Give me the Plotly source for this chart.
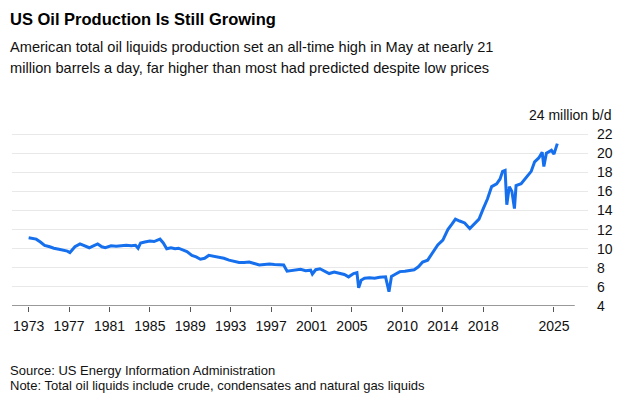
import plotly.graph_objects as go

# Monthly readings (approximate)
dates = [
    "1973-01", "1973-06", "1973-10", "1974-03", "1974-08", "1975-02", "1975-07", "1976-01",
    "1976-06", "1976-11", "1977-02", "1977-05", "1977-08", "1978-02", "1978-07", "1979-01",
    "1979-06", "1979-11", "1980-04", "1980-08", "1981-03", "1981-09", "1982-03", "1982-09",
    "1983-03", "1983-08", "1983-11", "1984-02", "1984-07", "1985-01", "1985-06", "1985-10",
    "1986-01", "1986-05", "1986-09", "1987-02", "1987-07", "1987-11", "1988-04", "1988-09",
    "1989-03", "1989-08", "1990-01", "1990-06", "1990-11", "1991-05", "1991-11", "1992-05",
    "1992-11", "1993-05", "1993-11", "1994-05", "1994-11", "1995-05", "1995-11", "1996-05",
    "1996-11", "1997-05", "1997-11", "1998-04", "1998-08", "1999-01", "1999-06", "1999-12",
    "2000-06", "2000-12", "2001-02", "2001-06", "2001-11", "2002-05", "2002-10", "2003-04",
    "2003-10", "2004-04", "2004-09", "2005-03", "2005-07", "2005-09", "2005-12", "2006-04",
    "2006-10", "2007-04", "2007-10", "2008-05", "2008-09", "2008-12", "2009-04", "2009-10",
    "2010-04", "2010-10", "2011-03", "2011-08", "2012-01", "2012-07", "2013-01", "2013-07",
    "2014-01", "2014-07", "2014-12", "2015-04", "2015-09", "2016-03", "2016-09", "2017-03",
    "2017-08", "2018-01", "2018-06", "2018-11", "2019-05", "2019-09", "2019-12", "2020-03",
    "2020-05", "2020-08", "2020-11", "2021-02", "2021-04", "2021-10", "2022-04", "2022-10",
    "2023-02", "2023-07", "2023-11", "2024-01", "2024-04", "2024-10", "2025-01", "2025-05",
]
production = [
    11.15, 11.05, 11.0, 10.7, 10.35, 10.2, 10.05, 9.95,
    9.85, 9.75, 9.6, 9.85, 10.2, 10.5, 10.3, 10.1,
    10.3, 10.5, 10.2, 10.1, 10.3, 10.25, 10.3, 10.35,
    10.3, 10.35, 10.05, 10.6, 10.7, 10.8, 10.75, 10.9,
    11.0, 10.6, 10.0, 10.1, 10.0, 10.05, 9.9, 9.7,
    9.3, 9.15, 8.9, 9.0, 9.3, 9.2, 9.15, 9.0,
    8.8, 8.7, 8.55, 8.55, 8.6, 8.45, 8.3, 8.35,
    8.4, 8.35, 8.35, 8.3, 7.65, 7.7, 7.75, 7.85,
    7.7, 7.75, 7.35, 7.8, 7.9, 7.6, 7.4, 7.55,
    7.4, 7.3, 7.05, 7.4, 7.5, 5.9, 6.7, 6.9,
    6.95, 6.9, 7.0, 7.05, 5.5, 7.1, 7.3, 7.6,
    7.65, 7.7, 7.8, 8.1, 8.6, 8.8, 9.6, 10.4,
    10.9, 12.0, 12.6, 13.1, 12.9, 12.7, 12.1, 12.7,
    13.1, 14.2, 15.2, 16.5, 16.8, 17.3, 18.1, 18.2,
    14.6, 16.5, 16.0, 14.2, 16.6, 16.8, 17.4, 18.1,
    19.1, 19.5, 20.1, 18.6, 20.0, 20.3, 19.9, 21.0,
]

x_tick_years = ["1973", "1977", "1981", "1985", "1989", "1993", "1997", "2001",
                "2005", "2010", "2014", "2018", "2025"]
y_ticks = [4, 6, 8, 10, 12, 14, 16, 18, 20, 22, 24]
y_tick_text = ["4", "6", "8", "10", "12", "14", "16", "18", "20", "22", ""]

title = "US Oil Production Is Still Growing"
subtitle_1 = "American total oil liquids production set an all-time high in May at nearly 21"
subtitle_2 = "million barrels a day, far higher than most had predicted despite low prices"
source = "Source: US Energy Information Administration"
note = "Note: Total oil liquids include crude, condensates and natural gas liquids"
unit_label = "24 million b/d"

FONT = "Liberation Sans, Arial, sans-serif"
TEXT = "#111111"

fig = go.Figure()
fig.add_trace(go.Scatter(
    x=dates, y=production, mode="lines",
    line=dict(color="#1670ee", width=3),
    hoverinfo="skip",
))

fig.update_layout(
    width=630, height=404,
    margin=dict(l=12, r=42, t=115, b=98, autoexpand=False),
    paper_bgcolor="white", plot_bgcolor="white",
    showlegend=False,
    font=dict(family=FONT, color=TEXT, size=14),
    xaxis=dict(
        type="date",
        range=["1971-05-10", "2028-05-15"],
        tickvals=[y + "-01-01" for y in x_tick_years],
        ticktext=x_tick_years,
        ticks="outside", ticklen=5, tickwidth=1.2, tickcolor="#555555",
        showgrid=False, showline=False, zeroline=False,
        tickfont=dict(size=14, color=TEXT),
        ticklabelstandoff=2,
        automargin=False,
    ),
    yaxis=dict(
        side="right",
        range=[4, 24],
        tickvals=y_ticks, ticktext=y_tick_text,
        showgrid=True, gridcolor="#e8e8e8", gridwidth=1,
        zeroline=False, showline=False, ticks="",
        tickfont=dict(size=14, color=TEXT),
        ticklabelstandoff=8,
        automargin=False,
    ),
    shapes=[dict(type="line", xref="paper", yref="y", x0=0, x1=0.977, y0=4, y1=4,
                 line=dict(color="#777777", width=1.5), layer="above")],
    annotations=[
        dict(text=f"<b>{title}</b>", xref="paper", yref="paper", x=-0.007, y=1.56,
             xanchor="left", yanchor="top", showarrow=False,
             font=dict(size=16.5, color="#000000", family=FONT)),
        dict(text=subtitle_1, xref="paper", yref="paper", x=-0.007, y=1.41,
             xanchor="left", yanchor="top", showarrow=False,
             font=dict(size=14.6, color=TEXT, family=FONT)),
        dict(text=subtitle_2, xref="paper", yref="paper", x=-0.007, y=1.301,
             xanchor="left", yanchor="top", showarrow=False,
             font=dict(size=14.6, color=TEXT, family=FONT)),
        dict(text=source, xref="paper", yref="paper", x=-0.007, y=-0.29,
             xanchor="left", yanchor="top", showarrow=False,
             font=dict(size=13, color=TEXT, family=FONT)),
        dict(text=note, xref="paper", yref="paper", x=-0.007, y=-0.368,
             xanchor="left", yanchor="top", showarrow=False,
             font=dict(size=13, color=TEXT, family=FONT)),
        dict(text=unit_label, xref="paper", yref="y", x=1.047, y=24,
             xanchor="right", yanchor="middle", showarrow=False,
             bgcolor="white", borderpad=2,
             font=dict(size=14, color=TEXT, family=FONT)),
    ],
)

fig.write_html("out.html", config={"displayModeBar": False},
               post_script="document.body.style.margin='0px';")
